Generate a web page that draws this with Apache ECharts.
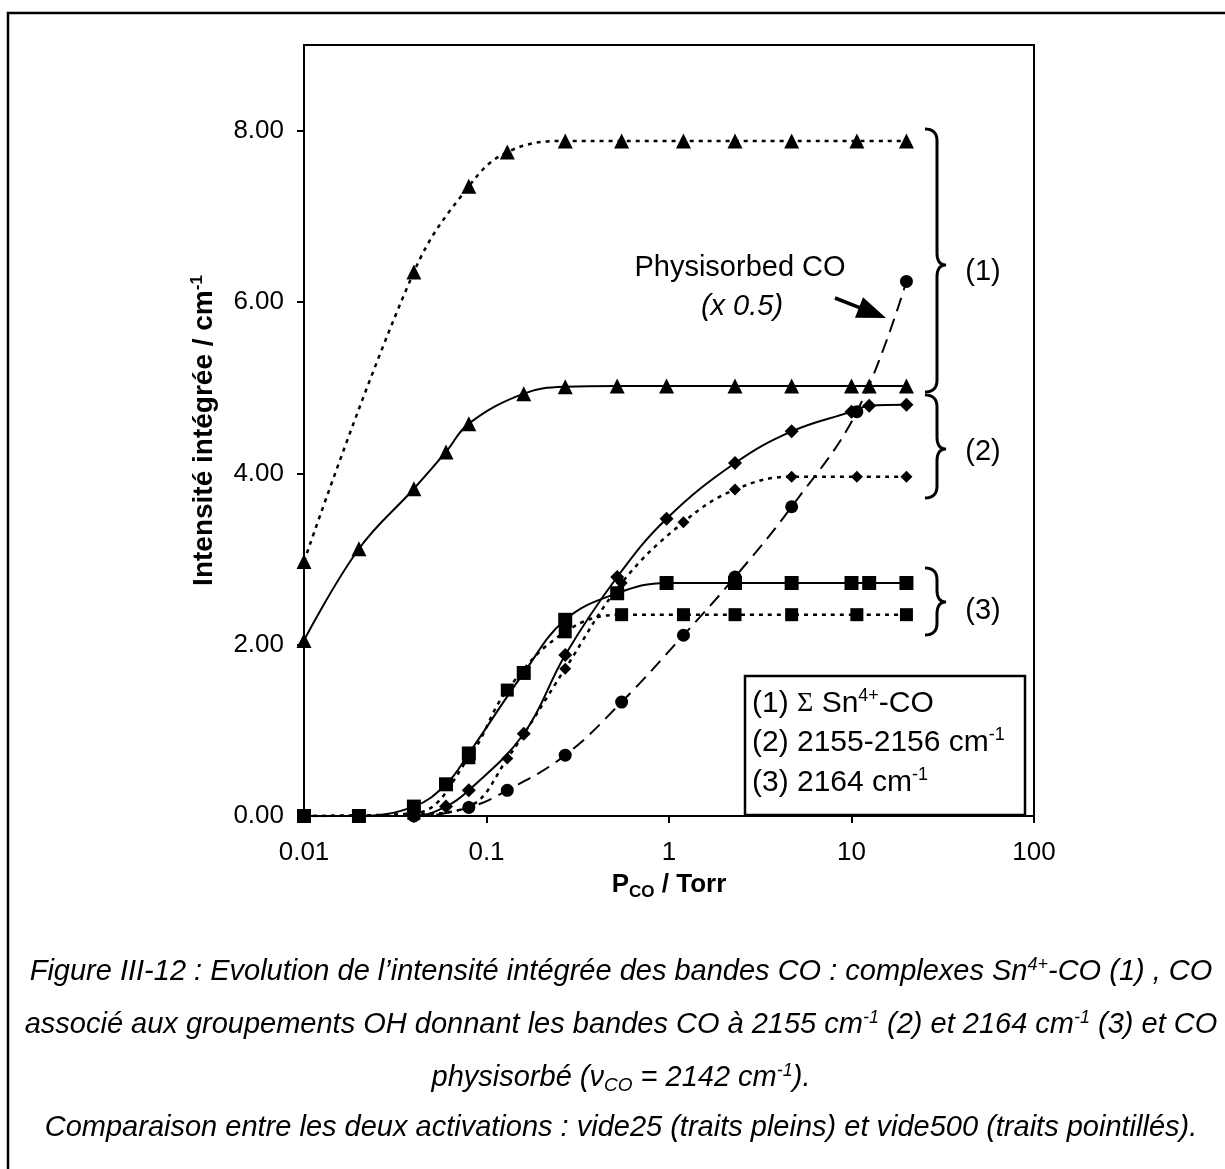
<!DOCTYPE html>
<html><head><meta charset="utf-8">
<script src="https://cdn.jsdelivr.net/npm/echarts@6/dist/echarts.min.js"></script>
<style>html,body{margin:0;padding:0;background:#fff}#c{width:1225px;height:1169px}</style>
</head><body><div id="c"></div>
<script>
// Pressure values (Torr)
const xVide25  = [0.01, 0.02, 0.04, 0.06, 0.08, 0.16, 0.27, 0.52, 0.97, 2.3, 4.7, 10, 12.5, 20];
const xVide500 = [0.01, 0.04, 0.08, 0.13, 0.27, 0.55, 1.2, 2.3, 4.7, 10.7, 20];
// (1) Sum Sn4+-CO
const sn25  = [2.05, 3.12, 3.82, 4.25, 4.58, 4.93, 5.01, 5.02, 5.02, 5.02, 5.02, 5.02, 5.02, 5.02];
const sn500 = [2.97, 6.35, 7.35, 7.75, 7.88, 7.88, 7.88, 7.88, 7.88, 7.88, 7.88];
// (2) 2155-2156 cm-1
const b2155_25  = [0, 0, 0, 0.11, 0.30, 0.96, 1.88, 2.79, 3.47, 4.12, 4.49, 4.72, 4.79, 4.80];
const b2155_500 = [0, 0.02, 0.11, 0.67, 1.72, 2.72, 3.43, 3.81, 3.96, 3.96, 3.96];
// (3) 2164 cm-1
const b2164_25  = [0, 0, 0.11, 0.37, 0.73, 1.67, 2.29, 2.60, 2.72, 2.72, 2.72, 2.72, 2.72, 2.72];
const b2164_500 = [0, 0.03, 0.68, 1.47, 2.15, 2.35, 2.35, 2.35, 2.35, 2.35, 2.35];
// Physisorbed CO (x 0.5)
const physi500  = [0, 0, 0.10, 0.30, 0.71, 1.33, 2.11, 2.79, 3.61, 4.72, 6.24];
// Axis ticks
const xTicks = [0.01, 0.1, 1, 10, 100];
const yTicks = [0, 2, 4, 6, 8];

const FONT = 'Liberation Sans, Arial, sans-serif';
const zip = (xs, ys) => xs.map((x, i) => [x, ys[i]]);

const chart = echarts.init(document.getElementById('c'), null, {renderer: 'canvas'});

const DOT = [4, 5], DASH = [14, 8];
function ser(name, xs, ys, symbol, size, lineType, width) {
  return {
    name, type: 'line', data: zip(xs, ys), smooth: 0.4,
    symbol, symbolSize: size, showSymbol: true,
    itemStyle: {color: '#000'},
    lineStyle: {color: '#000', width: width || 2, type: lineType},
    emphasis: {disabled: true}
  };
}

const supB = {fontSize: 17, fontFamily: FONT, fontWeight: 'bold', padding: [0, 0, 14, 0]};
const subB = {fontSize: 17, fontFamily: FONT, fontWeight: 'bold', padding: [16, 0, 0, 0]};

// brace "}" as sampled polyline
function quad(p0, p1, p2, n) {
  const out = [];
  for (let i = 0; i <= n; i++) {
    const t = i / n, a = (1 - t) * (1 - t), b = 2 * (1 - t) * t, c = t * t;
    out.push([a * p0[0] + b * p1[0] + c * p2[0], a * p0[1] + b * p1[1] + c * p2[1]]);
  }
  return out;
}
function brace(x0, yTop, yTip, yBot) {
  const x1 = x0 + 12, x2 = x0 + 21, r = 12;
  let pts = [];
  pts = pts.concat(quad([x0, yTop], [x1, yTop], [x1, yTop + r], 10));
  pts = pts.concat(quad([x1, yTip - r], [x1, yTip], [x2, yTip], 10));
  pts = pts.concat(quad([x2, yTip], [x1, yTip], [x1, yTip + r], 10));
  pts = pts.concat(quad([x1, yBot - r], [x1, yBot], [x0, yBot], 10));
  return {type: 'polyline', silent: true, shape: {points: pts}, style: {fill: null, stroke: '#000', lineWidth: 3}};
}

// arrow
const tail = [835, 298], tip = [886, 318];
const dx = tip[0] - tail[0], dy = tip[1] - tail[1], L = Math.hypot(dx, dy);
const ux = dx / L, uy = dy / L, hl = 29, hw = 11;
const bx = tip[0] - hl * ux, by = tip[1] - hl * uy;

const capRich = {
  it: {fontSize: 29, fontFamily: FONT, fontStyle: 'italic'},
  sup: {fontSize: 18, fontFamily: FONT, fontStyle: 'italic', padding: [0, 0, 14, 0]},
  sub: {fontSize: 19, fontFamily: FONT, fontStyle: 'italic', padding: [15, 0, 0, 0]}
};
function cap(text, y) {
  return {type: 'text', x: 621, y, silent: true,
    style: {text, rich: capRich, fontSize: 29, fontFamily: FONT, fontStyle: 'italic',
      fill: '#000', align: 'center', verticalAlign: 'middle'}};
}
const legRich = {
  t: {fontSize: 30, fontFamily: FONT},
  sig: {fontSize: 28, fontFamily: 'Liberation Serif, Times New Roman, serif'},
  sup: {fontSize: 18, fontFamily: FONT, padding: [0, 0, 15, 0]}
};
function leg(text, y) {
  return {type: 'text', x: 752, y, silent: true,
    style: {text, rich: legRich, fontSize: 30, fontFamily: FONT, fill: '#000',
      align: 'left', verticalAlign: 'middle'}};
}
function plain(text, x, y, size, italic) {
  return {type: 'text', x, y, silent: true,
    style: {text, fontSize: size, fontFamily: FONT, fontStyle: italic ? 'italic' : 'normal', fill: '#000',
      align: 'center', verticalAlign: 'middle'}};
}

const option = {
  animation: false,
  backgroundColor: '#fff',
  grid: {left: 304, right: 191, top: 45, bottom: 353, show: true, borderColor: '#000', borderWidth: 2, backgroundColor: 'transparent'},
  xAxis: {
    type: 'log', logBase: 10, min: xTicks[0], max: xTicks[xTicks.length - 1],
    axisLine: {lineStyle: {color: '#000', width: 2}},
    axisTick: {show: true, inside: false, length: 7, lineStyle: {color: '#000', width: 2}},
    minorTick: {show: false}, splitLine: {show: false},
    axisLabel: {color: '#000', fontSize: 26, fontFamily: FONT, margin: 24,
      formatter: v => String(+(+v).toPrecision(1))},
    name: 'P{sub|CO} / Torr', nameLocation: 'middle', nameGap: 52,
    nameTextStyle: {color: '#000', fontSize: 26, fontWeight: 'bold', fontFamily: FONT, rich: {sub: subB}}
  },
  yAxis: {
    type: 'value', min: 0, max: 9, interval: 2,
    axisLine: {show: true, lineStyle: {color: '#000', width: 2}},
    axisTick: {show: true, inside: false, length: 7, lineStyle: {color: '#000', width: 2}},
    splitLine: {show: false},
    axisLabel: {color: '#000', fontSize: 26, fontFamily: FONT, margin: 20, showMaxLabel: false,
      formatter: v => (yTicks.indexOf(v) >= 0 ? v.toFixed(2) : '')},
    name: 'Intensité intégrée / cm{sup|-1}', nameLocation: 'middle', nameGap: 84, nameRotate: 90,
    nameTextStyle: {color: '#000', fontSize: 28, fontWeight: 'bold', fontFamily: FONT, rich: {sup: supB}}
  },
  series: [
    ser('(1) vide25', xVide25, sn25, 'triangle', 15, 'solid', 2),
    ser('(1) vide500', xVide500, sn500, 'triangle', 15, DOT, 2.5),
    ser('(2) vide25', xVide25, b2155_25, 'diamond', 14, 'solid', 2),
    ser('(2) vide500', xVide500, b2155_500, 'diamond', 12, DOT, 2.5),
    ser('(3) vide25', xVide25, b2164_25, 'rect', 14, 'solid', 2),
    ser('(3) vide500', xVide500, b2164_500, 'rect', 13, DOT, 2.5),
    ser('Physisorbed CO', xVide500, physi500, 'circle', 13, DASH, 2)
  ],
  graphic: [
    {type: 'rect', silent: true, shape: {x: 8, y: 13, width: 1400, height: 1400},
      style: {fill: null, stroke: '#000', lineWidth: 2.5}},
    brace(925, 129, 265, 392),
    brace(925, 395, 449, 498),
    brace(925, 568, 602, 635),
    plain('(1)', 983, 272, 29),
    plain('(2)', 983, 452, 29),
    plain('(3)', 983, 611, 29),
    plain('Physisorbed CO', 740, 268, 29),
    plain('(x 0.5)', 742, 307, 29, true),
    {type: 'line', silent: true, shape: {x1: tail[0], y1: tail[1], x2: bx + 2 * ux, y2: by + 2 * uy},
      style: {stroke: '#000', lineWidth: 3.5}},
    {type: 'polygon', silent: true, shape: {points: [tip, [bx - hw * uy, by + hw * ux], [bx + hw * uy, by - hw * ux]]},
      style: {fill: '#000'}},
    {type: 'rect', silent: true, shape: {x: 745, y: 676, width: 280, height: 139},
      style: {fill: '#fff', stroke: '#000', lineWidth: 2.5}},
    leg('{t|(1) }{sig|Σ}{t| Sn}{sup|4+}{t|-CO}', 704),
    leg('{t|(2) 2155-2156 cm}{sup|-1}', 743),
    leg('{t|(3) 2164 cm}{sup|-1}', 783),
    cap('{it|Figure III-12 : Evolution de l’intensité intégrée des bandes CO : complexes Sn}{sup|4+}{it|-CO (1) , CO}', 972),
    cap('{it|associé aux groupements OH donnant les bandes CO à 2155 cm}{sup|-1}{it| (2) et 2164 cm}{sup|-1}{it| (3) et CO}', 1025),
    cap('{it|physisorbé (ν}{sub|CO}{it| = 2142 cm}{sup|-1}{it|).}', 1078),
    cap('{it|Comparaison entre les deux activations : vide25 (traits pleins) et vide500 (traits pointillés).}', 1128)
  ]
};
chart.setOption(option);
</script>
</body></html>
